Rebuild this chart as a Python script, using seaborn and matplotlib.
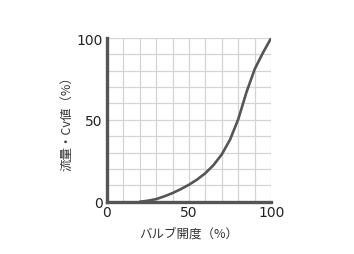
import matplotlib
matplotlib.use("Agg")
import matplotlib.pyplot as plt
import seaborn as sns
import pandas as pd
import numpy as np

opening = [20, 25, 30, 35, 40, 45, 50, 55, 60, 65, 70, 75, 80, 85, 90, 95, 100]
flow = [0, 0.6, 1.6, 3.3, 5.3, 7.7, 10.4, 13.6, 17.5, 22.5, 29, 38, 50.5, 67, 81, 91, 100]
major_ticks = [0, 50, 100]
xlabel = "バルブ開度（%）"
ylabel = "流量・Cv値（%）"

sns.set_theme(style="white")
plt.rcParams['font.family'] = ['Noto Sans CJK JP', 'DejaVu Sans']

fig = plt.figure(figsize=(3.54, 2.55), dpi=100)
ax = fig.add_axes([0.302, 0.205, 0.464, 0.642])

df = pd.DataFrame({"x": opening, "y": flow})
sns.lineplot(data=df, x="x", y="y", ax=ax, color="#555555", linewidth=1.9)

ax.set_xlim(0, 100)
ax.set_ylim(0, 100)
ax.set_xticks(major_ticks)
ax.set_yticks(major_ticks)
ax.set_xticks(np.arange(0, 101, 10), minor=True)
ax.set_yticks(np.arange(0, 101, 10), minor=True)
ax.grid(True, which="both", color="#d4d4d4", linewidth=0.9)
ax.set_axisbelow(True)
ax.tick_params(which="major", direction="in", length=5, width=2, color="#555555",
               labelsize=10, labelcolor="#222222")
ax.tick_params(axis="y", pad=3)
ax.tick_params(axis="x", pad=2)
for lab in ax.get_xticklabels() + ax.get_yticklabels():
    lab.set_family("DejaVu Sans")
ax.tick_params(which="minor", length=0)
for s in ["top", "right"]:
    ax.spines[s].set_visible(False)
for s in ["left", "bottom"]:
    ax.spines[s].set_color("#555555")
    ax.spines[s].set_linewidth(2.4)
ax.set_xlabel(xlabel, fontsize=9, color="#333333", labelpad=6)
ax.set_ylabel(ylabel, fontsize=9, color="#333333", labelpad=2)

fig.savefig("out.png", dpi=100)
